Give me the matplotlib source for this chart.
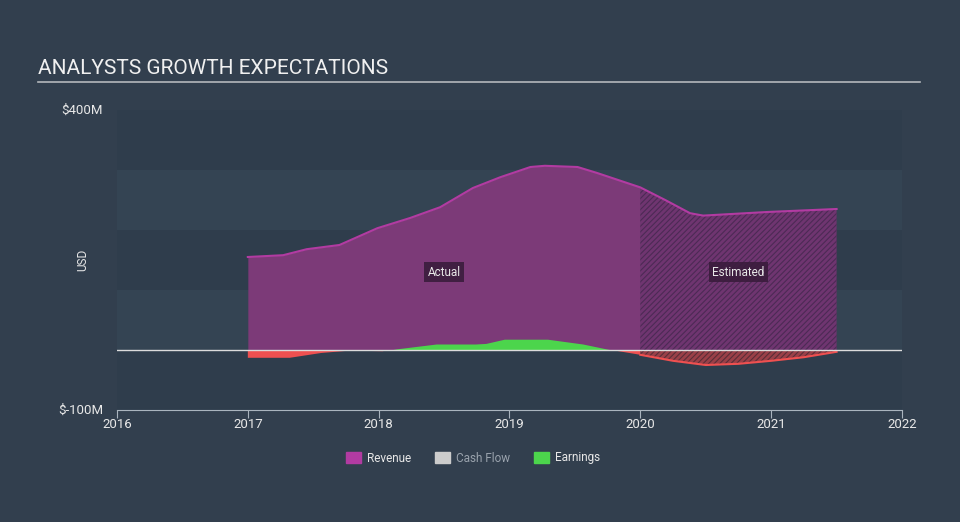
import matplotlib

matplotlib.use("Agg")
import matplotlib.pyplot as plt
from matplotlib.patches import Patch

plt.rcParams["font.family"] = ["Roboto", "DejaVu Sans"]
plt.rcParams["hatch.linewidth"] = 0.8

# --- data (USD millions) ---
rev_actual_x = [2017.0, 2017.27, 2017.45, 2017.70, 2017.99, 2018.24, 2018.47, 2018.72,
                2018.93, 2019.16, 2019.27, 2019.52, 2019.67, 2020.0]
rev_actual_y = [155, 158, 168, 175, 203, 220, 238, 270, 288, 305, 307, 305, 295, 271]
rev_est_x = [2020.0, 2020.19, 2020.38, 2020.48, 2020.97, 2021.5]
rev_est_y = [271, 250, 228, 224, 230, 235]

earn_actual_x = [2017.0, 2017.32, 2017.56, 2017.78, 2018.03, 2018.14, 2018.44, 2018.74,
                 2018.82, 2018.96, 2019.29, 2019.56, 2019.78, 2020.0]
earn_actual_y = [-13, -13, -5, -1, -2, 2, 10, 10, 11, 18, 18, 10, 0, -8]
earn_est_x = [2020.0, 2020.25, 2020.5, 2020.75, 2021.0, 2021.25, 2021.5]
earn_est_y = [-8, -18, -25, -23, -18, -12, -3]

y_ticks = [-100, 400]
y_ticklabels = ["$-100M", "$400M"]
x_ticks = [2016, 2017, 2018, 2019, 2020, 2021, 2022]

BG = "#323f4e"
BAND_DARK = "#2f3d4c"
BAND_LIGHT = "#344453"
PURPLE_LINE = "#b23ba2"
PURPLE_FILL = "#7c3a78"
GREEN = "#4cd54c"
RED = "#ef5050"
TEXT = "#e8e8e8"

fig = plt.figure(figsize=(9.6, 5.22), dpi=100, facecolor=BG)
ax = fig.add_axes([117 / 960, 1 - 410 / 522, (902 - 117) / 960, 300 / 522])
ax.set_facecolor(BG)
ax.set_xlim(2016, 2022)
ax.set_ylim(-100, 400)

# alternating horizontal bands
for i, lo in enumerate(range(-100, 400, 100)):
    ax.axhspan(lo, lo + 100, color=BAND_DARK if i % 2 == 0 else BAND_LIGHT, lw=0, zorder=0)

# revenue
ax.fill_between(rev_actual_x, 0, rev_actual_y, color=PURPLE_FILL, lw=0, zorder=2)
ax.fill_between(rev_est_x, 0, rev_est_y, facecolor="#6f3570", edgecolor="#4c2a55",
                hatch="//////", lw=0, zorder=2)
ax.plot(rev_actual_x + rev_est_x[1:], rev_actual_y + rev_est_y[1:], color=PURPLE_LINE,
        lw=1.5, zorder=3)

# earnings
ax.fill_between(earn_actual_x, 0, earn_actual_y, where=[v >= 0 for v in earn_actual_y],
                interpolate=True, color=GREEN, lw=0, zorder=4)
ax.fill_between(earn_actual_x, 0, earn_actual_y, where=[v <= 0 for v in earn_actual_y],
                interpolate=True, color=RED, lw=0, zorder=4)
ax.fill_between(earn_est_x, 0, earn_est_y, facecolor="#9a4048", edgecolor="#5a2e38",
                hatch="//////", lw=0, zorder=4)
ax.plot(earn_est_x, earn_est_y, color=RED, lw=1.5, zorder=5)

ax.axhline(0, color="#dcdcdc", lw=1, zorder=6)

# labels inside
box = dict(boxstyle="square,pad=0.3", fc="#3a1c3c", ec="none", alpha=0.9)
ax.text(2018.5, 130, "Actual", color=TEXT, fontsize=8.5, ha="center", va="center",
        bbox=box, zorder=7)
ax.text(2020.75, 130, "Estimated", color=TEXT, fontsize=8.5, ha="center", va="center",
        bbox=box, zorder=7)

# axes styling
for side in ["top", "right", "left"]:
    ax.spines[side].set_visible(False)
ax.spines["bottom"].set_color("#aab4be")
ax.spines["bottom"].set_position(("data", -100))
ax.set_xticks(x_ticks)
ax.set_xticklabels([str(t) for t in x_ticks])
ax.tick_params(axis="x", colors="#aab4be", labelcolor=TEXT, length=6, labelsize=9.5, pad=0)
ax.set_yticks(y_ticks)
ax.set_yticklabels(y_ticklabels)
ax.tick_params(axis="y", length=0, labelcolor=TEXT, labelsize=9.5, pad=10)
for lbl in ax.get_yticklabels():
    lbl.set_va("center")
ax.set_ylabel("USD", color=TEXT, fontsize=8.5)
ax.yaxis.set_label_coords(-0.035, 0.5)

# title + rule
fig.text(38 / 960, 1 - 68 / 522, "ANALYSTS GROWTH EXPECTATIONS", color="#f0f0f0",
         fontsize=15, va="center", ha="left")
fig.add_artist(plt.Line2D([38 / 960, 920 / 960], [1 - 82 / 522, 1 - 82 / 522],
                          color="#b4b8bc", lw=1.2))

# legend
handles = [Patch(color=PURPLE_LINE), Patch(color="#cccccc"), Patch(color=GREEN)]
leg = fig.legend(handles, ["Revenue", "Cash Flow", "Earnings"], loc="center",
                 bbox_to_anchor=(0.493, 1 - 458 / 522), ncol=3, frameon=False,
                 fontsize=8.5, handlelength=1.3, handleheight=1.0, columnspacing=2.0,
                 handletextpad=0.5)
for t, c in zip(leg.get_texts(), [TEXT, "#9aa3ad", TEXT]):
    t.set_color(c)

fig.savefig("out.png", dpi=100, facecolor=BG)
